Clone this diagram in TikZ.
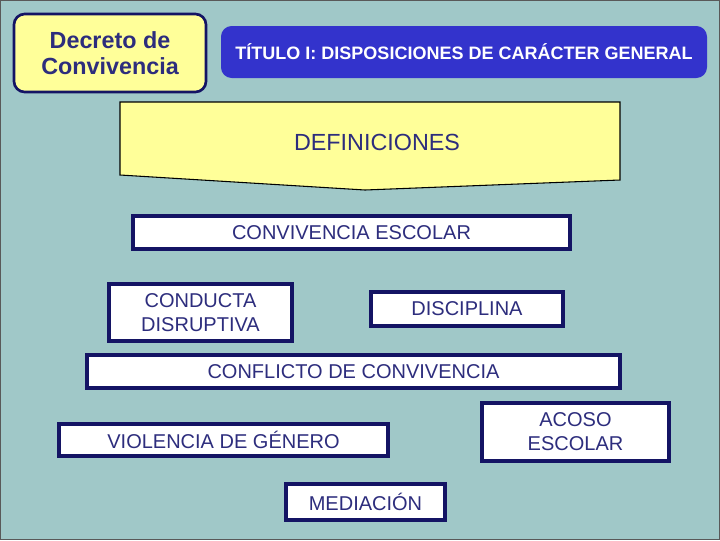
\documentclass[tikz,border=0pt]{standalone}
\usepackage{fontspec}
\setmainfont{Liberation Sans}
\usetikzlibrary{fit}
\definecolor{bgteal}{RGB}{160,200,200}
\definecolor{pale}{RGB}{255,255,153}
\definecolor{navy}{RGB}{20,20,100}
\definecolor{ink}{RGB}{45,45,125}
\definecolor{titleblue}{RGB}{51,51,204}
\tikzset{
  box/.style={draw=navy, line width=2.4pt, fill=white, inner sep=0pt},
  boxtext/.style={text=ink, font=\fontsize{15}{18}\selectfont, align=center, inner sep=0pt},
}
\begin{document}
\begin{tikzpicture}[x=0.75pt,y=0.75pt,yscale=-1]
\useasboundingbox (0,0) rectangle (720,540);
% background
\fill[bgteal] (0,0) rectangle (720,540);
\draw[gray!70!black, line width=1pt] (0.5,0.5) rectangle (719.5,539.5);

% header
\node (decreto) [draw=navy, line width=2pt, fill=pale, rounded corners=8pt, inner sep=0pt, fit={(14,14)(206,92)}] {};
\node at (decreto.center) [text=ink, font=\fontsize{17.5}{20}\selectfont\bfseries, align=center] {Decreto de\\Convivencia};
\node (titulo) [fill=titleblue, rounded corners=8pt, inner sep=0pt, fit={(221,26)(707,78)}] {};
\node at (titulo.center) [text=white, font=\fontsize{13.5}{16}\selectfont\bfseries] {TÍTULO I: DISPOSICIONES DE CARÁCTER GENERAL};

% definiciones
\draw[fill=pale, line width=0.8pt] (120,102) -- (620,102) -- (620,180) -- (365,190) -- (120,175) -- cycle;
\node (defs) at (377,142) [text=ink, font=\fontsize{17.5}{20}\selectfont] {DEFINICIONES};

% terms
\node (convesc) [box, fit={(133,216)(570,249)}] {};
\node at (convesc.center) [boxtext] {CONVIVENCIA ESCOLAR};
\node (conducta) [box, fit={(109,284)(292,341)}] {};
\node at (conducta.center) [boxtext] {CONDUCTA\\DISRUPTIVA};
\node (disciplina) [box, fit={(371,292)(563,326)}] {};
\node at (disciplina.center) [boxtext] {DISCIPLINA};
\node (conflicto) [box, fit={(87,355)(620,388)}] {};
\node at (conflicto.center) [boxtext] {CONFLICTO DE CONVIVENCIA};
\node (violencia) [box, fit={(59,424)(388,456)}] {};
\node at (violencia.center) [boxtext] {VIOLENCIA DE GÉNERO};
\node (acoso) [box, fit={(482,403)(669,461)}] {};
\node at (acoso.center) [boxtext] {ACOSO\\ESCOLAR};
\node (mediacion) [box, fit={(286,484)(445,520)}] {};
\node at (mediacion.center) [boxtext] {MEDIACIÓN};
\end{tikzpicture}
\end{document}
